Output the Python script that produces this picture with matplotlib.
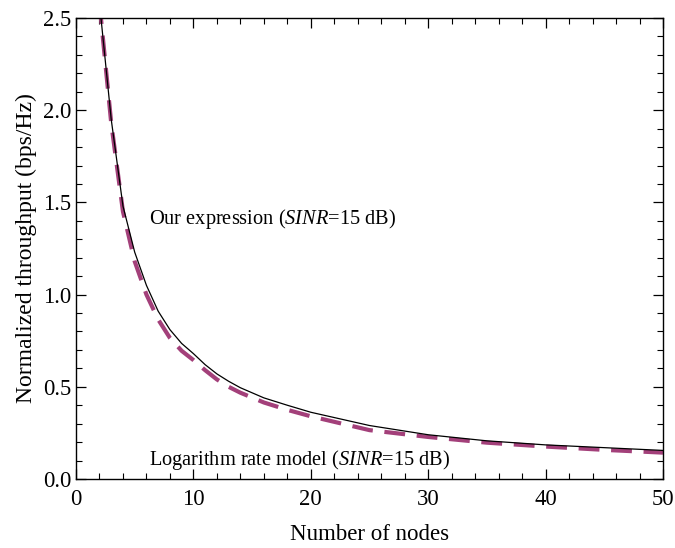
import matplotlib
matplotlib.use("Agg")
import matplotlib.pyplot as plt
from matplotlib.ticker import MultipleLocator

# number of nodes
nodes = [2, 3, 4, 5, 6, 7, 8, 9, 10, 11, 12, 13, 14, 16, 18, 20, 25, 30, 35, 40, 45, 50]
# our expression (SINR = 15 dB)
our_expr = [2.58, 1.95, 1.48, 1.23, 1.05, 0.91, 0.81, 0.735, 0.68, 0.62, 0.57, 0.53, 0.495,
            0.44, 0.40, 0.362, 0.29, 0.24, 0.207, 0.185, 0.170, 0.155]
# logarithm rate model (SINR = 15 dB)
log_model = [2.58, 1.93, 1.45, 1.18, 1.00, 0.865, 0.765, 0.695, 0.645, 0.59, 0.54, 0.50, 0.468,
             0.415, 0.375, 0.34, 0.265, 0.228, 0.197, 0.176, 0.158, 0.143]

plt.rcParams["font.family"] = ["Liberation Serif", "DejaVu Serif"]
plt.rcParams["mathtext.fontset"] = "custom"
plt.rcParams["mathtext.it"] = "Liberation Serif:italic"
plt.rcParams["mathtext.rm"] = "Liberation Serif"

fig = plt.figure(figsize=(6.75, 5.48), dpi=100)
ax = fig.add_axes([0.1126, 0.1259, 0.8696, 0.8413])

ax.plot(nodes, log_model, color="#A3407A", lw=3, dashes=(5, 2.8), zorder=2)
ax.plot(nodes, our_expr, color="black", lw=0.9, zorder=3)

ax.set_xlim(0, 50)
ax.set_ylim(0, 2.5)
ax.xaxis.set_major_locator(MultipleLocator(10))
ax.xaxis.set_minor_locator(MultipleLocator(2))
ax.yaxis.set_major_locator(MultipleLocator(0.5))
ax.yaxis.set_minor_locator(MultipleLocator(0.1))
ax.yaxis.set_major_formatter(plt.FormatStrFormatter("%.1f"))
ax.tick_params(which="both", direction="in", top=True, right=True, labelsize=16.3)
ax.tick_params(which="major", length=7, width=0.9)
ax.tick_params(which="minor", length=4, width=0.8)
ax.tick_params(axis="x", which="major", pad=7)
ax.tick_params(axis="y", which="major", pad=3.5)
for s in ax.spines.values():
    s.set_linewidth(1.0)

ax.set_xlabel("Number of nodes", fontsize=16.5, labelpad=10)
ax.set_ylabel("Normalized throughput (bps/Hz)", fontsize=17, labelpad=4)

ax.text(6.2, 1.41, r"Our expression ($\mathit{SINR}$=15 dB)", fontsize=14.7, va="center")
ax.text(6.2, 0.105, r"Logarithm rate model ($\mathit{SINR}$=15 dB)", fontsize=14.7, va="center")

fig.savefig("out.png", dpi=100)
